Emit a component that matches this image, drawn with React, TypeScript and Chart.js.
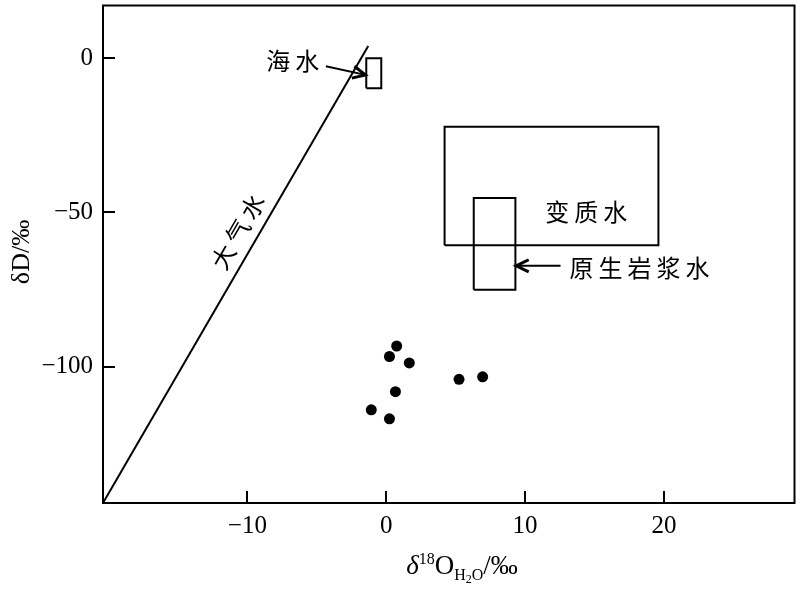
import React, { useEffect, useRef } from "react";
import { Chart, registerables } from "chart.js";
Chart.register(...registerables);

// Axis ranges and ticks
const xRange = [-20.4, 29.4];
const yRange = [-144.2, 17.1];
const xTicks = [-10, 0, 10, 20];
const yTicks = [-100, -50, 0];

// Samples (δ18O_H2O, δD)
const sampleX = [0.75, 0.23, 1.66, 5.24, 6.94, 0.66, -1.08, 0.23];
const sampleY = [-93.3, -96.7, -98.8, -104.1, -103.3, -108.1, -114.0, -116.9];

// Meteoric water line
const meteoricX = [-20.4, -1.3];
const meteoricY = [-144.2, 4.0];

// Fields (x range, y range)
const seaBoxX = [-1.44, -0.36];
const seaBoxY = [-9.7, 0];
const metaBoxX = [4.2, 19.6];
const metaBoxY = [-60.6, -22.2];
const magmaBoxX = [6.3, 9.3];
const magmaBoxY = [-75.1, -45.3];

// Text labels
const labelText = ["海水", "变质水", "原生岩浆水", "大气水"];
const labelX = [-8.65, 11.45, 13.2, -10.6];
const labelY = [-1.0, -49.9, -67.9, -55.5];
const labelRot = [0, 0, 0, -60];
const labelAlign = ["left", "left", "left", "center"];

// Arrows (from -> to)
const arrowFromX = [-4.35, 12.55];
const arrowFromY = [-2.6, -67.3];
const arrowToX = [-1.5, 9.35];
const arrowToY = [-5.4, -67.3];

const rect = (xs: number[], ys: number[]) => [
  { x: xs[0], y: ys[0] },
  { x: xs[1], y: ys[0] },
  { x: xs[1], y: ys[1] },
  { x: xs[0], y: ys[1] },
  { x: xs[0], y: ys[0] },
];

const fmt = (v: number) => (v < 0 ? "\u2212" + Math.abs(v) : String(v));

const SERIF = "'Liberation Serif', 'Times New Roman', serif";
const CJK = "'Noto Sans CJK SC', sans-serif";

const overlay = {
  id: "overlay",
  afterDatasetsDraw(chart: any) {
    const ctx = chart.ctx as CanvasRenderingContext2D;
    const a = chart.chartArea;
    const xs = chart.scales.x;
    const ys = chart.scales.y;
    ctx.save();
    ctx.strokeStyle = "#000";
    ctx.fillStyle = "#000";
    // frame
    ctx.lineWidth = 2;
    ctx.strokeRect(a.left, a.top, a.right - a.left, a.bottom - a.top);
    // inward ticks
    const tl = 12;
    ctx.beginPath();
    xTicks.forEach((v) => {
      const px = Math.round(xs.getPixelForValue(v));
      ctx.moveTo(px, a.bottom);
      ctx.lineTo(px, a.bottom - tl);
    });
    yTicks.forEach((v) => {
      const py = Math.round(ys.getPixelForValue(v));
      ctx.moveTo(a.left, py);
      ctx.lineTo(a.left + tl, py);
    });
    ctx.stroke();

    // labels
    ctx.font = "24px " + CJK;
    (ctx as any).letterSpacing = "5px";
    ctx.textBaseline = "middle";
    labelText.forEach((t, i) => {
      const px = xs.getPixelForValue(labelX[i]);
      const py = ys.getPixelForValue(labelY[i]);
      ctx.save();
      ctx.translate(px, py);
      ctx.rotate((labelRot[i] * Math.PI) / 180);
      ctx.textAlign = labelAlign[i] as CanvasTextAlign;
      ctx.fillText(t, 0, 0);
      ctx.restore();
    });
    (ctx as any).letterSpacing = "0px";

    // arrows
    arrowFromX.forEach((_, i) => {
      const x1 = xs.getPixelForValue(arrowFromX[i]);
      const y1 = ys.getPixelForValue(arrowFromY[i]);
      const x2 = xs.getPixelForValue(arrowToX[i]);
      const y2 = ys.getPixelForValue(arrowToY[i]);
      const ang = Math.atan2(y2 - y1, x2 - x1);
      ctx.lineWidth = 2;
      ctx.beginPath();
      ctx.moveTo(x1, y1);
      ctx.lineTo(x2, y2);
      ctx.stroke();
      const hl = 14;
      const hw = 0.45;
      ctx.lineWidth = 3;
      ctx.beginPath();
      ctx.moveTo(x2 - hl * Math.cos(ang - hw), y2 - hl * Math.sin(ang - hw));
      ctx.lineTo(x2, y2);
      ctx.lineTo(x2 - hl * Math.cos(ang + hw), y2 - hl * Math.sin(ang + hw));
      ctx.stroke();
    });

    // y axis title
    ctx.save();
    ctx.translate(22, 252);
    ctx.rotate(-Math.PI / 2);
    ctx.font = "26px " + SERIF;
    ctx.textAlign = "center";
    ctx.textBaseline = "middle";
    ctx.fillText("\u03b4D/\u2030", 0, 0);
    ctx.restore();

    // x axis title: δ18O H2O /‰
    const parts = [
      { t: "\u03b4", f: "italic 27px " + SERIF, dy: 0 },
      { t: "18", f: "16px " + SERIF, dy: -10 },
      { t: "O", f: "27px " + SERIF, dy: 0 },
      { t: "H", f: "16px " + SERIF, dy: 6 },
      { t: "2", f: "12px " + SERIF, dy: 9 },
      { t: "O", f: "16px " + SERIF, dy: 6 },
      { t: "/\u2030", f: "27px " + SERIF, dy: 0 },
    ];
    let total = 0;
    parts.forEach((p) => {
      ctx.font = p.f;
      total += ctx.measureText(p.t).width;
    });
    let cx = 462 - total / 2;
    const base = 574;
    ctx.textAlign = "left";
    ctx.textBaseline = "alphabetic";
    parts.forEach((p) => {
      ctx.font = p.f;
      ctx.fillText(p.t, cx, base + p.dy);
      cx += ctx.measureText(p.t).width;
    });
    ctx.restore();
  },
};

export default function App() {
  const ref = useRef<HTMLCanvasElement>(null);
  useEffect(() => {
    if (!ref.current) return;
    const lineDs = (data: any[]) => ({
      type: "line" as const,
      data,
      showLine: true,
      borderColor: "#000",
      borderWidth: 2,
      pointRadius: 0,
      fill: false,
      tension: 0,
    });
    const chart = new Chart(ref.current, {
      type: "scatter",
      data: {
        datasets: [
          lineDs(meteoricX.map((x, i) => ({ x, y: meteoricY[i] }))),
          lineDs(rect(seaBoxX, seaBoxY)),
          lineDs(rect(metaBoxX, metaBoxY)),
          lineDs(rect(magmaBoxX, magmaBoxY)),
          {
            type: "scatter" as const,
            data: sampleX.map((x, i) => ({ x, y: sampleY[i] })),
            pointRadius: 5.5,
            backgroundColor: "#000",
            borderColor: "#000",
            borderWidth: 0,
          },
        ] as any,
      },
      options: {
        animation: false,
        responsive: false,
        events: [],
        layout: { padding: { top: 2, right: 1, left: 0, bottom: 0 } },
        plugins: { legend: { display: false }, tooltip: { enabled: false } },
        scales: {
          x: {
            type: "linear",
            min: xRange[0],
            max: xRange[1],
            afterBuildTicks: (s: any) => {
              s.ticks = xTicks.map((v) => ({ value: v }));
            },
            afterFit: (s: any) => {
              s.height = 87;
              s.paddingLeft = 0;
              s.paddingRight = 0;
            },
            ticks: {
              callback: (v: any) => fmt(Number(v)),
              font: { family: SERIF, size: 25 },
              color: "#000",
              padding: 8,
              maxRotation: 0,
              autoSkip: false,
            },
            grid: { display: false, drawTicks: false },
            border: { display: false },
          },
          y: {
            type: "linear",
            min: yRange[0],
            max: yRange[1],
            afterBuildTicks: (s: any) => {
              s.ticks = yTicks.map((v) => ({ value: v }));
            },
            afterFit: (s: any) => {
              s.width = 103;
              s.paddingTop = 0;
              s.paddingBottom = 0;
            },
            ticks: {
              callback: (v: any) => fmt(Number(v)),
              font: { family: SERIF, size: 25 },
              color: "#000",
              padding: 10,
              autoSkip: false,
            },
            grid: { display: false, drawTicks: false },
            border: { display: false },
          },
        },
      } as any,
      plugins: [overlay],
    });
    return () => chart.destroy();
  }, []);
  return (
    <div style={{ position: "absolute", left: 0, top: 0, width: 800, height: 590, background: "#fff" }}>
      <canvas ref={ref} width={800} height={590} />
    </div>
  );
}
